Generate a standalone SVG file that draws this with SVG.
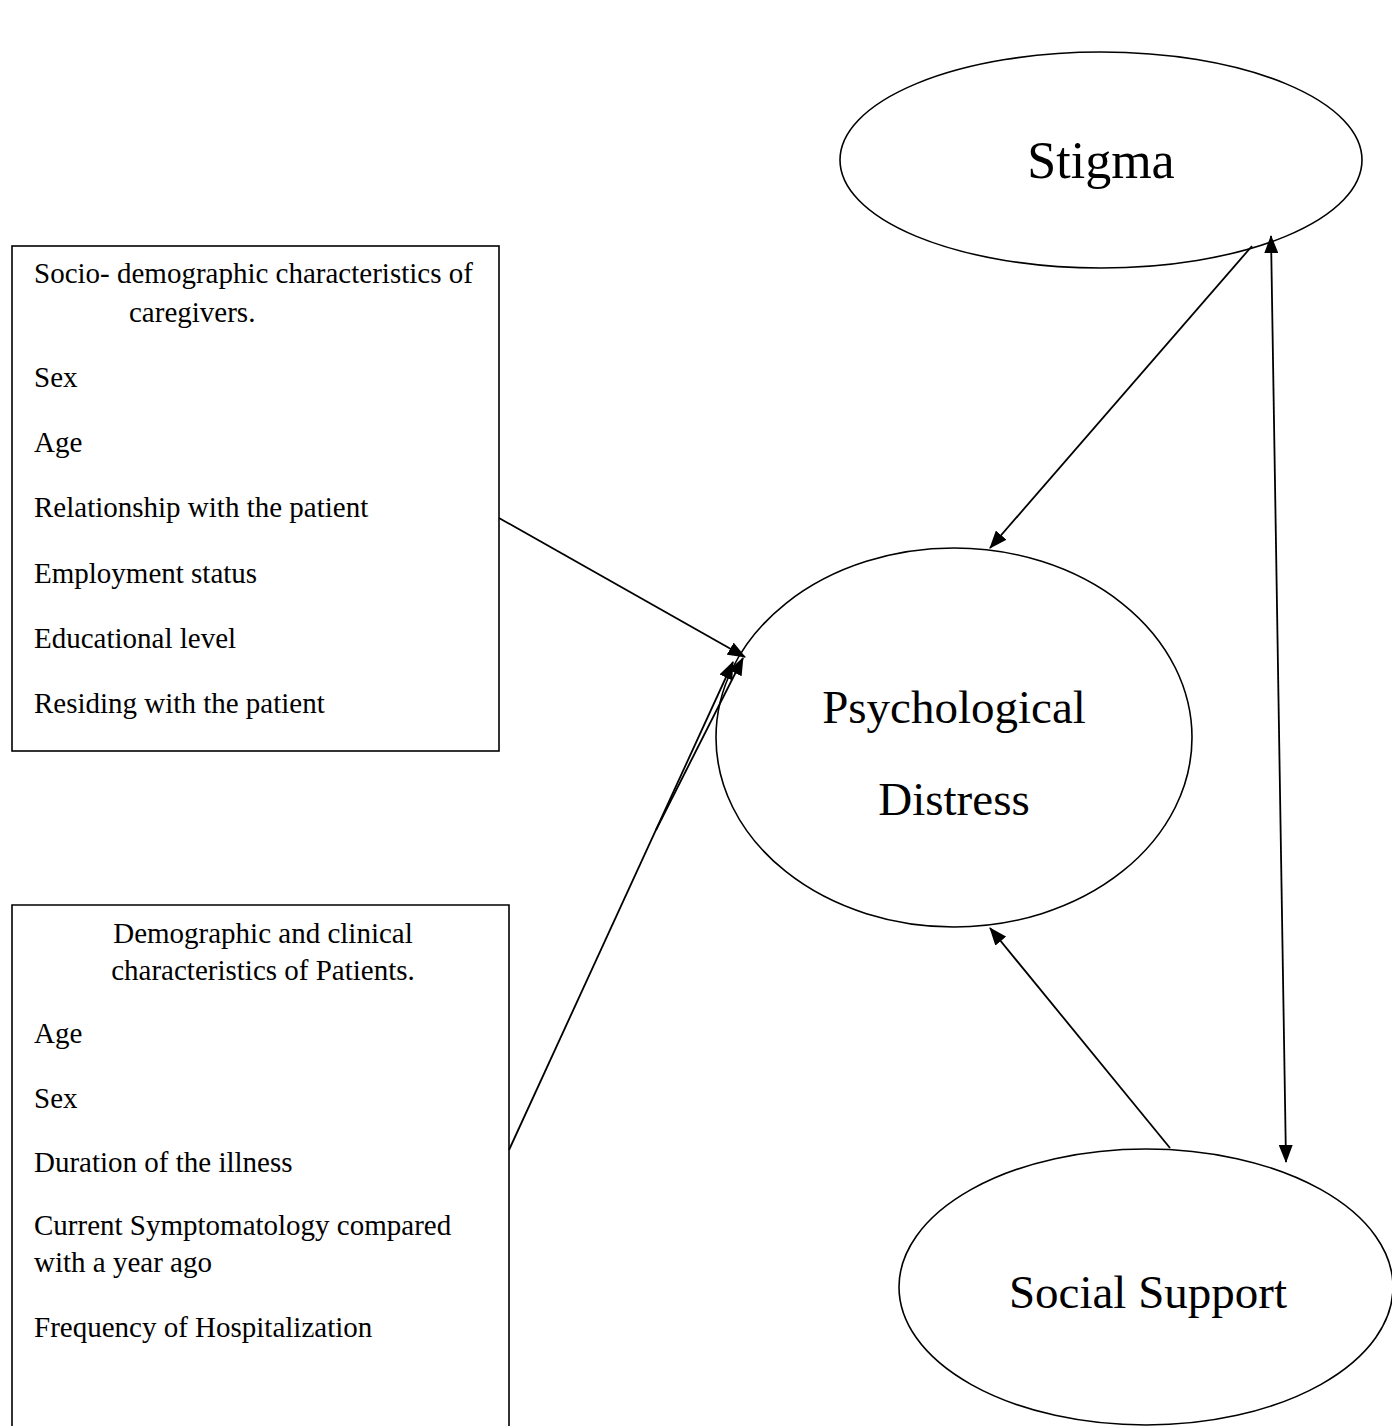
<svg xmlns="http://www.w3.org/2000/svg" width="1392" height="1426" viewBox="0 0 1392 1426">
<style>
.shape{fill:#fff;stroke:#000;stroke-width:1.6}
.conn{stroke:#000;stroke-width:1.8;fill:none}
.t{font-family:"Liberation Serif","Times New Roman",serif;fill:#000}
.box{font-size:29px}
.big{font-size:47px;text-anchor:middle}
</style>
<defs>
<marker id="ah" markerUnits="userSpaceOnUse" markerWidth="18" markerHeight="14" refX="17" refY="7" orient="auto-start-reverse" viewBox="0 0 18 14">
<path d="M0,0 L18,7 L0,14 z" fill="#000"/>
</marker>
</defs>
<rect width="1392" height="1426" fill="#fff"/>
<g id="caregivers">
<rect class="shape" x="12" y="246" width="487" height="505"/>
<text class="t box" x="34" y="283">Socio- demographic characteristics of</text>
<text class="t box" x="129" y="322">caregivers.</text>
<text class="t box" x="34" y="387">Sex</text>
<text class="t box" x="34" y="452">Age</text>
<text class="t box" x="34" y="517">Relationship with the patient</text>
<text class="t box" x="34" y="583">Employment status</text>
<text class="t box" x="34" y="648">Educational level</text>
<text class="t box" x="34" y="713">Residing with the patient</text>
</g>
<g id="patients">
<path class="shape" d="M12,1430 L12,905 L509,905 L509,1430"/>
<text class="t box" x="263" y="943" text-anchor="middle">Demographic and clinical</text>
<text class="t box" x="263" y="980" text-anchor="middle">characteristics of Patients.</text>
<text class="t box" x="34" y="1043">Age</text>
<text class="t box" x="34" y="1108">Sex</text>
<text class="t box" x="34" y="1172">Duration of the illness</text>
<text class="t box" x="34" y="1235">Current Symptomatology compared</text>
<text class="t box" x="34" y="1272">with a year ago</text>
<text class="t box" x="34" y="1337">Frequency of Hospitalization</text>
</g>
<g id="stigma">
<ellipse class="shape" cx="1101" cy="160" rx="261" ry="108"/>
<text class="t big" x="1101" y="178" style="font-size:52px">Stigma</text>
</g>
<g id="distress">
<ellipse class="shape" cx="954" cy="737.5" rx="238" ry="189.5"/>
<text class="t big" x="954" y="723">Psychological</text>
<text class="t big" x="954" y="815">Distress</text>
</g>
<g id="support">
<ellipse class="shape" cx="1146" cy="1287" rx="247" ry="138"/>
<text class="t big" x="1148" y="1308">Social Support</text>
</g>
<g id="connectors">
<line class="conn" x1="499" y1="518" x2="745" y2="657" marker-end="url(#ah)"/>
<line class="conn" x1="656" y1="830" x2="743" y2="658" marker-end="url(#ah)"/>
<line class="conn" x1="509" y1="1150" x2="733" y2="662" marker-end="url(#ah)"/>
<line class="conn" x1="1252" y1="246" x2="990" y2="548" marker-end="url(#ah)"/>
<line class="conn" x1="1170" y1="1148" x2="990" y2="928" marker-end="url(#ah)"/>
<line class="conn" x1="1271" y1="236" x2="1286" y2="1162" marker-start="url(#ah)" marker-end="url(#ah)"/>
</g>
</svg>
